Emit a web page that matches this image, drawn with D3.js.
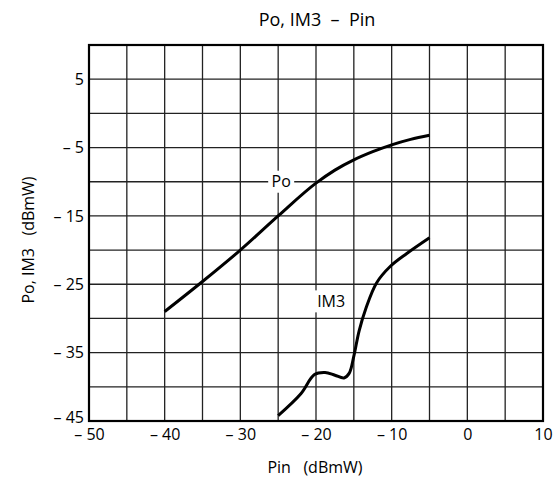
<!DOCTYPE html>
<html><head><meta charset="utf-8">
<script src="https://cdn.jsdelivr.net/npm/d3@7"></script>
<style>body{margin:0;background:#fff}svg{display:block}text{font-family:"Open Sans","DejaVu Sans",sans-serif;fill:#000;white-space:pre}</style>
</head><body>
<svg id="c" width="557" height="483"></svg>
<script>
const xTicks = [-50, -40, -30, -20, -10, 0, 10];
const yTicks = [5, -5, -15, -25, -35, -45];
const poPin = [-40, -35, -30, -25, -20, -17.5, -15, -12.5, -10, -7.5, -5];
const poVal = [-29, -24.6, -20, -15, -10.2, -8.3, -6.8, -5.6, -4.6, -3.8, -3.2];
const im3Pin = [-25, -22, -20.2, -18.8, -17.5, -16.3, -15.6, -15, -14.3, -13.4, -12, -10.2, -8, -5];
const im3Val = [-44.2, -41, -38.2, -37.9, -38.3, -38.7, -38, -35.5, -31.8, -28.5, -24.8, -22.4, -20.5, -18.2];
const title = "Po, IM3  –  Pin";
const xLabel = "Pin   (dBmW)";
const yLabel = "Po, IM3   (dBmW)";

const svg = d3.select("#c");
const L = 89, R = 543, T = 45, B = 421;
const x = d3.scaleLinear().domain([-50, 10]).range([L, R]);
const y = d3.scaleLinear().domain([-45, 10]).range([B, T]);
const fmt = d => d < 0 ? "– " + Math.abs(d) : String(d);
const FF = '"Open Sans","DejaVu Sans",sans-serif';

// grid
const g = svg.append("g");
g.selectAll("line.v").data(d3.range(-45, 10, 5)).join("line")
  .attr("x1", d => x(d)).attr("x2", d => x(d)).attr("y1", T).attr("y2", B)
  .attr("stroke", "#222").attr("stroke-width", 1.3);
g.selectAll("line.h").data(d3.range(-40, 10, 5)).join("line")
  .attr("y1", d => y(d)).attr("y2", d => y(d)).attr("x1", L).attr("x2", R)
  .attr("stroke", "#222").attr("stroke-width", 1.3);
svg.append("rect").attr("x", L).attr("y", T).attr("width", R - L).attr("height", B - T)
  .attr("fill", "none").attr("stroke", "#000").attr("stroke-width", 2.2);

// axes
const xa = svg.append("g").attr("transform", `translate(0,${B})`)
  .call(d3.axisBottom(x).tickValues(xTicks).tickSize(0).tickPadding(8).tickFormat(fmt));
xa.select(".domain").remove();
xa.selectAll("text").attr("font-size", 16).style("font-family", FF).style("white-space", "pre");
const ya = svg.append("g").attr("transform", `translate(${L},0)`)
  .call(d3.axisLeft(y).tickValues(yTicks).tickSize(0).tickPadding(5).tickFormat(fmt));
ya.select(".domain").remove();
ya.selectAll("text").attr("font-size", 16).attr("dy", d => d === -45 ? "0.1em" : "0.32em")
  .style("font-family", FF).style("white-space", "pre");

// curves
const po = poPin.map((p, i) => [p, poVal[i]]);
const im3 = im3Pin.map((p, i) => [p, im3Val[i]]);
const line = d3.line().x(d => x(d[0])).y(d => y(d[1])).curve(d3.curveMonotoneX);
const line2 = d3.line().x(d => x(d[0])).y(d => y(d[1])).curve(d3.curveCatmullRom.alpha(0.5));
svg.append("path").attr("d", line(po)).attr("fill", "none").attr("stroke", "#000").attr("stroke-width", 3);
svg.append("path").attr("d", line2(im3)).attr("fill", "none").attr("stroke", "#000").attr("stroke-width", 3);

// series labels
function lab(txt, cx, cy, w) {
  svg.append("rect").attr("x", cx - w / 2).attr("y", cy - 11).attr("width", w).attr("height", 22).attr("fill", "#fff");
  svg.append("text").attr("x", cx).attr("y", cy).attr("dy", "0.35em").attr("text-anchor", "middle").attr("font-size", 16).text(txt);
}
lab("Po", x(-24.6), y(-10), 26);
lab("IM3", x(-18), y(-27.5), 36);

// titles
svg.append("text").attr("x", 317).attr("y", 20).attr("dy", "0.35em").attr("text-anchor", "middle").attr("font-size", 18).text(title);
svg.append("text").attr("x", 315).attr("y", 467).attr("dy", "0.35em").attr("text-anchor", "middle").attr("font-size", 16).text(xLabel);
svg.append("text").attr("transform", "translate(28,240) rotate(-90)").attr("dy", "0.35em").attr("text-anchor", "middle").attr("font-size", 16).text(yLabel);
</script>
</body></html>
